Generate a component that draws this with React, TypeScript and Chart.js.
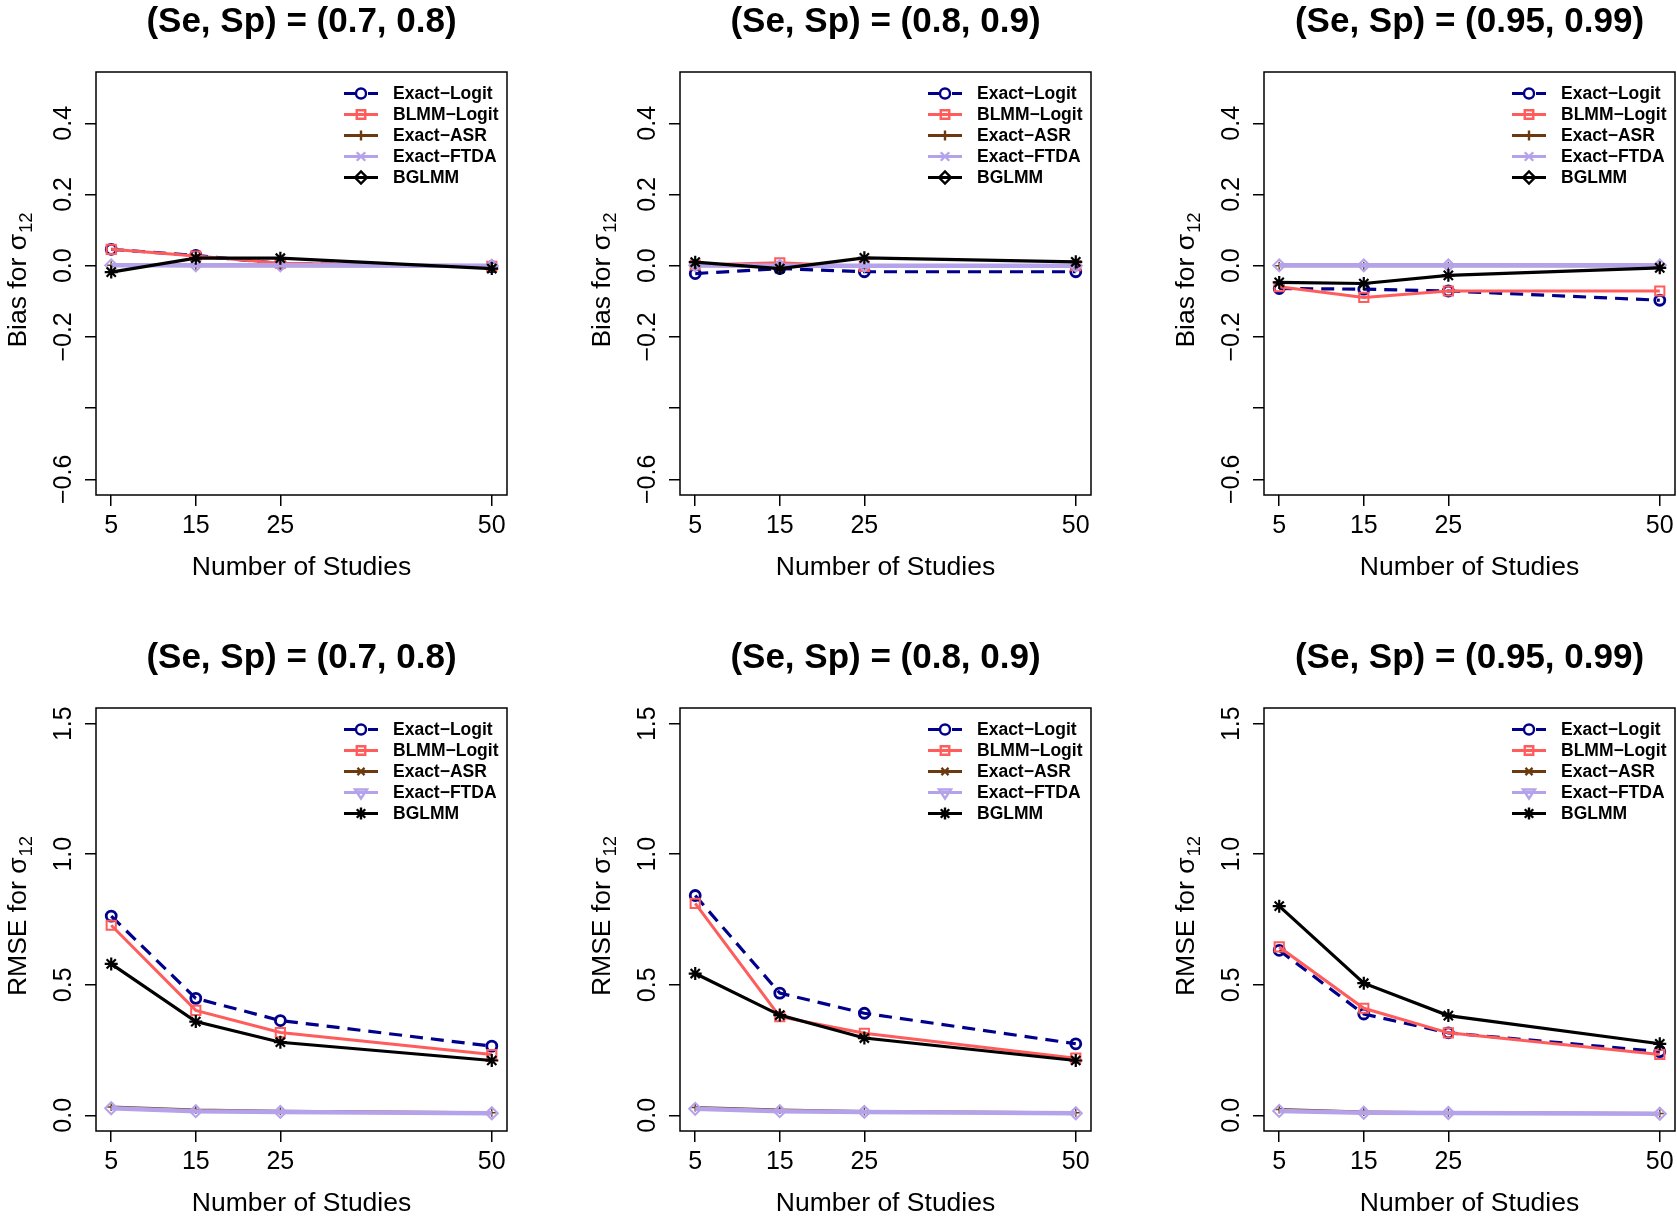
import React, { useEffect, useRef } from "react";
import { Chart, registerables } from "chart.js";

Chart.register(...registerables);

const FONT = '"Liberation Sans", Arimo, Arial, Helvetica, sans-serif';

// ---------- data ----------
const numberOfStudies = [5, 15, 25, 50];
const xTickValues = [5, 15, 25, 50];
const xTickLabels = ["5", "15", "25", "50"];
const xAxisLabel = "Number of Studies";

const methodNames = ["Exact−Logit", "BLMM−Logit", "Exact−ASR", "Exact−FTDA", "BGLMM"];
const methodColors = ["#00008B", "#FF5C5C", "#6B3A10", "#B4A2EA", "#000000"];

const panelTitles = [
  "(Se, Sp) = (0.7, 0.8)",
  "(Se, Sp) = (0.8, 0.9)",
  "(Se, Sp) = (0.95, 0.99)",
];

const biasYTicks = [-0.6, -0.4, -0.2, 0, 0.2, 0.4];
const biasYTickLabels = ["−0.6", "", "−0.2", "0.0", "0.2", "0.4"];
const rmseYTicks = [0, 0.5, 1.0, 1.5];
const rmseYTickLabels = ["0.0", "0.5", "1.0", "1.5"];

// Bias, (Se, Sp) = (0.7, 0.8)
const biasA_ExactLogit = [0.046, 0.029, 0.006, -0.003];
const biasA_BLMM = [0.046, 0.027, 0.007, -0.002];
const biasA_ASR = [0.001, 0.0, 0.0, 0.0];
const biasA_FTDA = [0.001, 0.001, 0.001, 0.0];
const biasA_BGLMM = [-0.018, 0.021, 0.021, -0.008];

// Bias, (Se, Sp) = (0.8, 0.9)
const biasB_ExactLogit = [-0.022, -0.008, -0.017, -0.017];
const biasB_BLMM = [0.002, 0.008, -0.002, 0.0];
const biasB_ASR = [0.0, 0.0, 0.0, 0.0];
const biasB_FTDA = [0.001, 0.0, 0.0, 0.0];
const biasB_BGLMM = [0.010, -0.008, 0.022, 0.011];

// Bias, (Se, Sp) = (0.95, 0.99)
const biasC_ExactLogit = [-0.064, -0.066, -0.071, -0.097];
const biasC_BLMM = [-0.059, -0.089, -0.071, -0.071];
const biasC_ASR = [0.0, 0.0, 0.0, 0.0];
const biasC_FTDA = [0.001, 0.001, 0.001, 0.001];
const biasC_BGLMM = [-0.047, -0.050, -0.027, -0.006];

// RMSE, (Se, Sp) = (0.7, 0.8)
const rmseA_ExactLogit = [0.763, 0.448, 0.363, 0.265];
const rmseA_BLMM = [0.728, 0.402, 0.317, 0.233];
const rmseA_ASR = [0.032, 0.020, 0.016, 0.010];
const rmseA_FTDA = [0.027, 0.016, 0.013, 0.008];
const rmseA_BGLMM = [0.580, 0.359, 0.280, 0.210];

// RMSE, (Se, Sp) = (0.8, 0.9)
const rmseB_ExactLogit = [0.842, 0.468, 0.391, 0.274];
const rmseB_BLMM = [0.812, 0.378, 0.314, 0.219];
const rmseB_ASR = [0.030, 0.020, 0.015, 0.010];
const rmseB_FTDA = [0.025, 0.016, 0.013, 0.008];
const rmseB_BGLMM = [0.543, 0.384, 0.296, 0.210];

// RMSE, (Se, Sp) = (0.95, 0.99)
const rmseC_ExactLogit = [0.632, 0.388, 0.316, 0.244];
const rmseC_BLMM = [0.645, 0.410, 0.316, 0.233];
const rmseC_ASR = [0.022, 0.013, 0.010, 0.007];
const rmseC_FTDA = [0.017, 0.010, 0.009, 0.006];
const rmseC_BGLMM = [0.801, 0.506, 0.382, 0.274];

// ---------- styles ----------
const methodDash: number[][] = [[13, 8], [], [], [], []];
const legendDash: number[][] = [[12, 12], [], [], [], []];
const methodLineWidth = [3.2, 3, 3, 4.5, 3.2];
const dataPointStyles = ["circle", "rect", "cross", "rectRot", "star"];
const pointRadii = [5, 6.5, 4, 6, 6.5];
const pointBorderWidths = [2.8, 2, 1.5, 2, 2.2];
const biasLegendStyles = ["circle", "rect", "cross", "crossRot", "rectRot"];
const rmseLegendStyles = ["circle", "rect", "crossRot", "triangleDown", "star"];

const CELL_W = 584;
const CELL_H = 636;

type Spec = {
  title: string;
  yMain: string;
  ySub: string;
  yMin: number;
  yMax: number;
  yTicks: number[];
  yTickLabels: string[];
  series: number[][];
  legendStyles: string[];
};

const specs: Spec[] = [
  { title: panelTitles[0], yMain: "Bias for σ", ySub: "12", yMin: -0.644, yMax: 0.544, yTicks: biasYTicks, yTickLabels: biasYTickLabels, series: [biasA_ExactLogit, biasA_BLMM, biasA_ASR, biasA_FTDA, biasA_BGLMM], legendStyles: biasLegendStyles },
  { title: panelTitles[1], yMain: "Bias for σ", ySub: "12", yMin: -0.644, yMax: 0.544, yTicks: biasYTicks, yTickLabels: biasYTickLabels, series: [biasB_ExactLogit, biasB_BLMM, biasB_ASR, biasB_FTDA, biasB_BGLMM], legendStyles: biasLegendStyles },
  { title: panelTitles[2], yMain: "Bias for σ", ySub: "12", yMin: -0.644, yMax: 0.544, yTicks: biasYTicks, yTickLabels: biasYTickLabels, series: [biasC_ExactLogit, biasC_BLMM, biasC_ASR, biasC_FTDA, biasC_BGLMM], legendStyles: biasLegendStyles },
  { title: panelTitles[0], yMain: "RMSE for σ", ySub: "12", yMin: -0.06, yMax: 1.56, yTicks: rmseYTicks, yTickLabels: rmseYTickLabels, series: [rmseA_ExactLogit, rmseA_BLMM, rmseA_ASR, rmseA_FTDA, rmseA_BGLMM], legendStyles: rmseLegendStyles },
  { title: panelTitles[1], yMain: "RMSE for σ", ySub: "12", yMin: -0.06, yMax: 1.56, yTicks: rmseYTicks, yTickLabels: rmseYTickLabels, series: [rmseB_ExactLogit, rmseB_BLMM, rmseB_ASR, rmseB_FTDA, rmseB_BGLMM], legendStyles: rmseLegendStyles },
  { title: panelTitles[2], yMain: "RMSE for σ", ySub: "12", yMin: -0.06, yMax: 1.56, yTicks: rmseYTicks, yTickLabels: rmseYTickLabels, series: [rmseC_ExactLogit, rmseC_BLMM, rmseC_ASR, rmseC_FTDA, rmseC_BGLMM], legendStyles: rmseLegendStyles },
];

function drawMarker(ctx: CanvasRenderingContext2D, style: string, x: number, y: number, r: number, color: string, lw: number) {
  ctx.save();
  ctx.setLineDash([]);
  ctx.strokeStyle = color;
  ctx.lineWidth = lw;
  ctx.beginPath();
  const d = r * Math.SQRT1_2;
  switch (style) {
    case "circle":
      ctx.arc(x, y, r, 0, Math.PI * 2);
      break;
    case "rect":
      ctx.rect(x - d, y - d, 2 * d, 2 * d);
      break;
    case "cross":
      ctx.moveTo(x, y - r); ctx.lineTo(x, y + r);
      ctx.moveTo(x - r, y); ctx.lineTo(x + r, y);
      break;
    case "crossRot":
      ctx.moveTo(x - d, y - d); ctx.lineTo(x + d, y + d);
      ctx.moveTo(x + d, y - d); ctx.lineTo(x - d, y + d);
      break;
    case "rectRot":
      ctx.moveTo(x - r, y); ctx.lineTo(x, y - r); ctx.lineTo(x + r, y); ctx.lineTo(x, y + r); ctx.closePath();
      break;
    case "star":
      ctx.moveTo(x, y - r); ctx.lineTo(x, y + r);
      ctx.moveTo(x - r, y); ctx.lineTo(x + r, y);
      ctx.moveTo(x - d, y - d); ctx.lineTo(x + d, y + d);
      ctx.moveTo(x + d, y - d); ctx.lineTo(x - d, y + d);
      break;
    case "triangleDown": {
      const h = r * 1.5;
      ctx.moveTo(x - r, y - h / 3); ctx.lineTo(x + r, y - h / 3); ctx.lineTo(x, y + (2 * h) / 3); ctx.closePath();
      break;
    }
  }
  ctx.stroke();
  ctx.restore();
}

function makeDecor(spec: Spec) {
  return {
    id: "decor",
    afterDraw(chart: any) {
      const ctx: CanvasRenderingContext2D = chart.ctx;
      const a = chart.chartArea;
      const xs = chart.scales.x;
      const ys = chart.scales.y;
      ctx.save();
      ctx.setLineDash([]);
      ctx.strokeStyle = "#000";
      ctx.lineWidth = 1.5;
      ctx.strokeRect(a.left, a.top, a.right - a.left, a.bottom - a.top);
      ctx.fillStyle = "#000";

      // title
      ctx.font = `bold 35px ${FONT}`;
      ctx.textAlign = "center";
      ctx.textBaseline = "alphabetic";
      ctx.fillText(spec.title, (a.left + a.right) / 2, a.top - 40);

      // x tick labels
      ctx.font = `25px ${FONT}`;
      xTickValues.forEach((v, i) => {
        ctx.fillText(xTickLabels[i], xs.getPixelForValue(v), a.bottom + 38);
      });

      // x axis label
      ctx.font = `26.5px ${FONT}`;
      ctx.fillText(xAxisLabel, (a.left + a.right) / 2, a.bottom + 80);

      // y tick labels (rotated)
      ctx.font = `25px ${FONT}`;
      spec.yTicks.forEach((v, i) => {
        const lab = spec.yTickLabels[i];
        if (!lab) return;
        ctx.save();
        ctx.translate(a.left - 25, ys.getPixelForValue(v));
        ctx.rotate(-Math.PI / 2);
        ctx.textAlign = "center";
        ctx.fillText(lab, 0, 0);
        ctx.restore();
      });

      // y axis label with subscript
      ctx.save();
      ctx.translate(a.left - 70.5, (a.top + a.bottom) / 2 - 3);
      ctx.rotate(-Math.PI / 2);
      ctx.textAlign = "left";
      ctx.font = `26.5px ${FONT}`;
      const w1 = ctx.measureText(spec.yMain).width;
      ctx.font = `18.5px ${FONT}`;
      const w2 = ctx.measureText(spec.ySub).width;
      const start = -(w1 + w2) / 2;
      ctx.font = `26.5px ${FONT}`;
      ctx.fillText(spec.yMain, start, 0);
      ctx.font = `18.5px ${FONT}`;
      ctx.fillText(spec.ySub, start + w1 + 1, 6);
      ctx.restore();

      // legend
      const lx0 = a.right - 163;
      const lx1 = a.right - 129;
      const mx = (lx0 + lx1) / 2;
      const tx = a.right - 114;
      methodNames.forEach((name, i) => {
        const y = a.top + 21.5 + 21 * i;
        ctx.save();
        ctx.strokeStyle = methodColors[i];
        ctx.lineWidth = 3.2;
        ctx.setLineDash(legendDash[i]);
        ctx.beginPath();
        ctx.moveTo(lx0, y);
        ctx.lineTo(lx1, y);
        ctx.stroke();
        ctx.restore();
        drawMarker(ctx, spec.legendStyles[i], mx, y, pointRadii[i] > 5 ? 6 : 5, methodColors[i], 2.4);
        ctx.font = `bold 17.5px ${FONT}`;
        ctx.textAlign = "left";
        ctx.textBaseline = "middle";
        ctx.fillStyle = "#000";
        ctx.fillText(name, tx, y + 1);
      });
      ctx.restore();
    },
  };
}

function Panel({ spec, left, top }: { spec: Spec; left: number; top: number }) {
  const ref = useRef<HTMLCanvasElement>(null);
  useEffect(() => {
    const datasets = spec.series.map((vals, i) => ({
      label: methodNames[i],
      data: numberOfStudies.map((x, j) => ({ x, y: vals[j] })),
      borderColor: methodColors[i],
      borderWidth: methodLineWidth[i],
      borderDash: methodDash[i],
      pointStyle: dataPointStyles[i],
      pointRadius: pointRadii[i],
      pointBorderWidth: pointBorderWidths[i],
      pointBorderColor: methodColors[i],
      pointBackgroundColor: "rgba(0,0,0,0)",
      fill: false,
      tension: 0,
      order: 5 - i,
    }));
    const gridOpts = {
      display: true,
      drawOnChartArea: false,
      drawTicks: true,
      tickLength: 11,
      color: "#000",
      lineWidth: 1.5,
    };
    const chart = new Chart(ref.current as HTMLCanvasElement, {
      type: "line",
      data: { datasets: datasets as any },
      plugins: [makeDecor(spec)],
      options: {
        animation: false,
        responsive: false,
        events: [],
        layout: { padding: { left: 0, right: 77, top: 72, bottom: 0 }, autoPadding: false },
        plugins: { legend: { display: false }, title: { display: false }, tooltip: { enabled: false } },
        scales: {
          x: {
            type: "linear",
            min: 3.2,
            max: 51.8,
            afterBuildTicks: (s: any) => {
              s.ticks = xTickValues.map((v) => ({ value: v }));
            },
            afterFit: (s: any) => {
              s.height = 141;
            },
            ticks: { display: false },
            grid: gridOpts,
            border: { display: false },
          },
          y: {
            type: "linear",
            min: spec.yMin,
            max: spec.yMax,
            afterBuildTicks: (s: any) => {
              s.ticks = spec.yTicks.map((v) => ({ value: v }));
            },
            afterFit: (s: any) => {
              s.width = 96;
            },
            ticks: { display: false },
            grid: gridOpts,
            border: { display: false },
          },
        },
      } as any,
    });
    return () => chart.destroy();
  }, [spec]);
  return (
    <canvas
      ref={ref}
      width={CELL_W}
      height={CELL_H}
      style={{ position: "absolute", left, top, width: CELL_W, height: CELL_H }}
    />
  );
}

export default function App() {
  return (
    <div
      style={{
        position: "absolute",
        left: 0,
        top: 0,
        width: 1677,
        height: 1219,
        overflow: "hidden",
        background: "#fff",
      }}
    >
      {specs.map((spec, i) => (
        <Panel key={i} spec={spec} left={(i % 3) * CELL_W} top={Math.floor(i / 3) * CELL_H} />
      ))}
    </div>
  );
}
